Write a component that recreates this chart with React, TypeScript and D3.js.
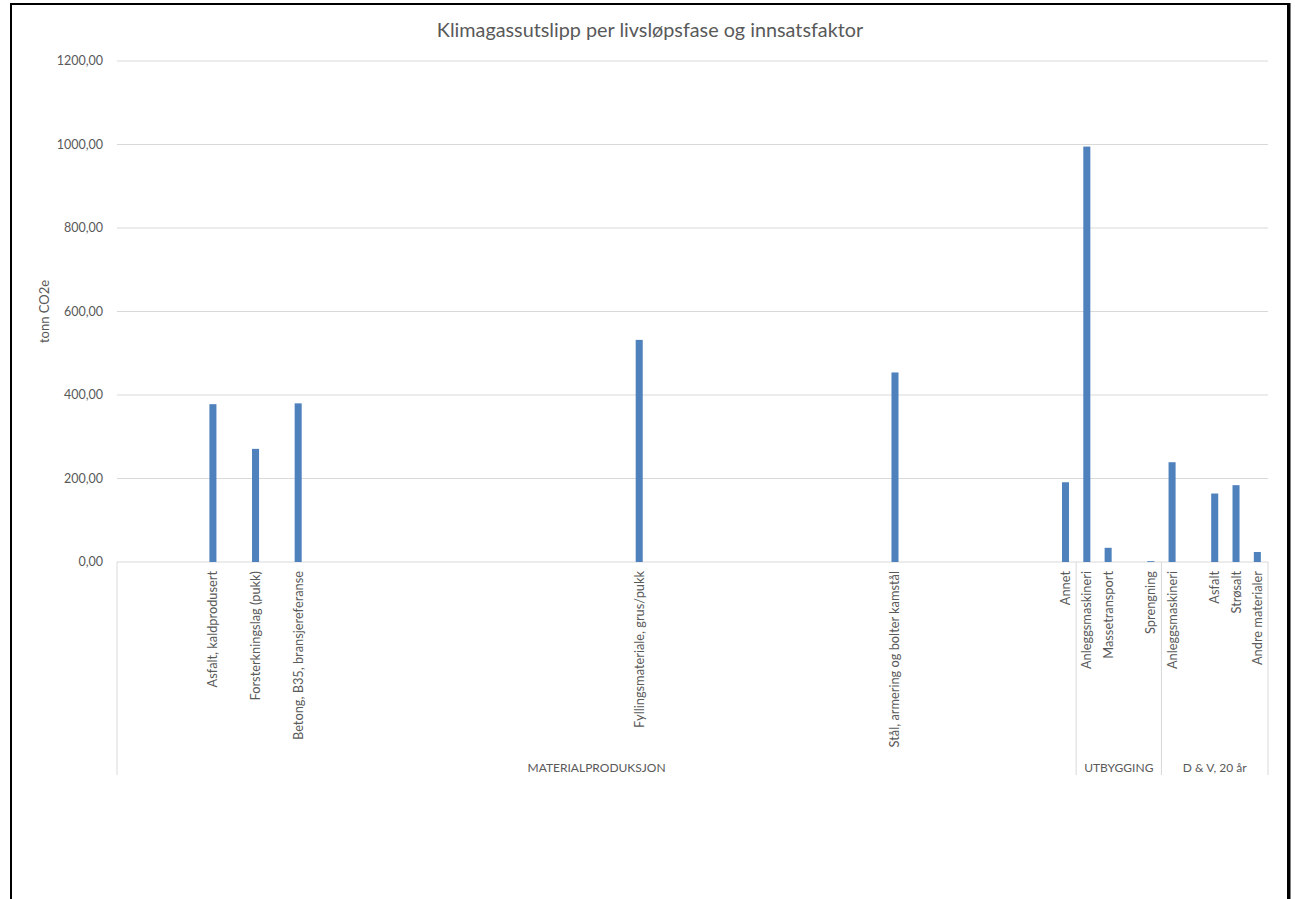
import React from "react";
import * as d3 from "d3";

const title = "Klimagassutslipp per livsløpsfase og innsatsfaktor";
const yTitle = "tonn CO2e";
const yTicks = [0, 200, 400, 600, 800, 1000, 1200];

const groupNames = ["MATERIALPRODUKSJON", "UTBYGGING", "D & V, 20 år"];

const materialCategories = [
  "", "", "", "", "Asfalt, kaldprodusert", "", "Forsterkningslag (pukk)", "", "Betong, B35, bransjereferanse", "",
  "", "", "", "", "", "", "", "", "", "",
  "", "", "", "", "Fyllingsmateriale, grus/pukk", "", "", "", "", "",
  "", "", "", "", "", "", "Stål, armering og bolter kamstål", "", "", "",
  "", "", "", "", "Annet",
];
const materialValues: (number | null)[] = [
  null, null, null, null, 378, null, 271, null, 380, null,
  null, null, null, null, null, null, null, null, null, null,
  null, null, null, null, 532, null, null, null, null, null,
  null, null, null, null, null, null, 454, null, null, null,
  null, null, null, null, 191,
];
const utbyggingCategories = ["Anleggsmaskineri", "Massetransport", "", "Sprengning"];
const utbyggingValues: (number | null)[] = [995, 34, null, 2];
const dvCategories = ["Anleggsmaskineri", "", "Asfalt", "Strøsalt", "Andre materialer"];
const dvValues: (number | null)[] = [239, null, 164, 184, 24];

const groupCats = [materialCategories, utbyggingCategories, dvCategories];
const groupVals = [materialValues, utbyggingValues, dvValues];

type Item = { key: string; label: string; value: number | null; group: number };
const items: Item[] = [];
groupCats.forEach((cats, g) =>
  cats.forEach((c, i) => items.push({ key: `${g}-${i}`, label: c, value: groupVals[g][i], group: g }))
);

const W = 1295;
const H = 899;
const left = 117;
const right = 1268;
const top = 61;
const bottom = 562;
const font = "Lato, 'Open Sans', sans-serif";
const textColor = "#595959";
const gridColor = "#d9d9d9";

export default function App() {
  const x = d3
    .scaleBand<string>()
    .domain(items.map((d) => d.key))
    .range([left, right])
    .paddingInner(0.67)
    .paddingOuter(0.335);
  const y = d3.scaleLinear().domain([0, 1200]).range([bottom, top]);
  const step = x.step();
  const slotLeft = (k: string) => (x(k) as number) - step * 0.335;

  const groupBounds = groupNames.map((_, g) => {
    const gi = items.filter((d) => d.group === g);
    const x0 = slotLeft(gi[0].key);
    const x1 = slotLeft(gi[gi.length - 1].key) + step;
    return [x0, x1];
  });
  const sepXs = [left, ...groupBounds.map((b) => b[1])];

  return (
    <svg
      width={W}
      height={H}
      style={{ position: "absolute", left: 0, top: 0, background: "#fff" }}
      fontFamily={font}
    >
      <rect x={0} y={0} width={W} height={H} fill="#fff" />
      <rect x={11} y={4} width={1277} height={H + 10} fill="none" stroke="#000" strokeWidth={2} />
      <line x1={1289} x2={1289} y1={3} y2={H} stroke="#000" strokeWidth={3} />
      <text x={650} y={37} textAnchor="middle" fontSize={19.8} fill={textColor}>
        {title}
      </text>
      {yTicks.map((t) => (
        <g key={t}>
          <line x1={left} x2={right} y1={y(t)} y2={y(t)} stroke={gridColor} strokeWidth={1} />
          <text x={103} y={y(t)} dy="0.35em" textAnchor="end" fontSize={12.5} fill={textColor}>
            {d3.format(".2f")(t).replace(".", ",")}
          </text>
        </g>
      ))}
      <text
        transform={`translate(44,${(top + bottom) / 2}) rotate(-90)`}
        textAnchor="middle"
        dy="0.35em"
        fontSize={13}
        fill={textColor}
      >
        {yTitle}
      </text>
      {items
        .filter((d) => d.value !== null)
        .map((d) => (
          <rect
            key={d.key}
            x={x(d.key)}
            y={y(d.value as number)}
            width={x.bandwidth()}
            height={bottom - y(d.value as number)}
            fill="#4f81bd"
          />
        ))}
      {items
        .filter((d) => d.label !== "")
        .map((d) => (
          <text
            key={"l" + d.key}
            transform={`translate(${(x(d.key) as number) + x.bandwidth() / 2},571) rotate(-90)`}
            textAnchor="end"
            dy="0.35em"
            fontSize={12.8}
            fill={textColor}
          >
            {d.label}
          </text>
        ))}
      {sepXs.map((sx, i) => (
        <line key={"s" + i} x1={sx} x2={sx} y1={bottom} y2={775} stroke={gridColor} strokeWidth={1} />
      ))}
      {groupNames.map((g, i) => (
        <text
          key={g}
          x={(groupBounds[i][0] + groupBounds[i][1]) / 2}
          y={768}
          dy="0.35em"
          textAnchor="middle"
          fontSize={12}
          fill={textColor}
        >
          {g}
        </text>
      ))}
    </svg>
  );
}
